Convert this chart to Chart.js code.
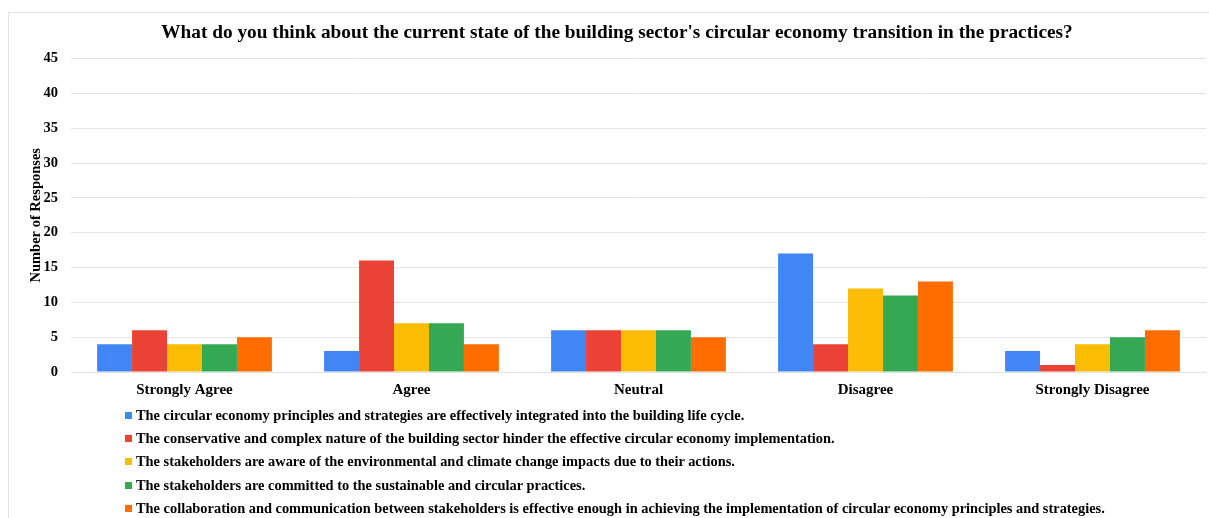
<!DOCTYPE html>
<html>
<head>
<meta charset="utf-8">
<script src="https://cdn.jsdelivr.net/npm/chart.js@4/dist/chart.umd.min.js"></script>
<style>
  body { margin: 0; background: #fff; }
  #wrap { position: relative; width: 1209px; height: 518px; overflow: hidden; }
  #frame { position: absolute; left: 8px; top: 12px; width: 1240px; height: 540px; border: 1px solid #e4e4e4; }
  canvas { position: absolute; left: 0; top: 0; }
  #legend {
    position: absolute; left: 125px; top: 403.5px;
    font: bold 14.4px 'Liberation Serif', 'Times New Roman', serif; color: #000;
  }
  #legend .row { display: flex; align-items: center; height: 23.4px; white-space: nowrap; }
  #legend .box { width: 7px; height: 7px; margin-right: 4px; flex: none; }
</style>
</head>
<body>
<div id="wrap">
  <div id="frame"></div>
  <canvas id="myChart" width="1209" height="518"></canvas>
  <div id="legend"></div>
</div>
<script>
const labels = ["Strongly Agree", "Agree", "Neutral", "Disagree", "Strongly Disagree"];

const integrated = [4, 3, 6, 17, 3];
const conservative = [6, 16, 6, 4, 1];
const aware = [4, 7, 6, 12, 4];
const committed = [4, 7, 6, 11, 5];
const collaboration = [5, 4, 5, 13, 6];

const serif = "'Liberation Serif', 'Times New Roman', serif";

const datasets = [
  {
    label: "The circular economy principles and strategies are effectively integrated into the building life cycle.",
    backgroundColor: "#4285f4",
    data: integrated,
  },
  {
    label: "The conservative and complex nature of the building sector hinder the effective circular economy implementation.",
    backgroundColor: "#ea4335",
    data: conservative,
  },
  {
    label: "The stakeholders are aware of the environmental and climate change impacts due to their actions.",
    backgroundColor: "#fbbc04",
    data: aware,
  },
  {
    label: "The stakeholders are committed to the sustainable and circular practices.",
    backgroundColor: "#34a853",
    data: committed,
  },
  {
    label: "The collaboration and communication between stakeholders is effective enough in achieving the implementation of circular economy principles and strategies.",
    backgroundColor: "#ff6d01",
    data: collaboration,
  },
];

// one legend entry per line, built from the chart's own datasets
const htmlLegend = {
  id: "htmlLegend",
  afterUpdate(chart) {
    const box = document.getElementById("legend");
    box.innerHTML = "";
    chart.options.plugins.legend.labels.generateLabels(chart).forEach((item) => {
      const row = document.createElement("div");
      row.className = "row";
      const swatch = document.createElement("span");
      swatch.className = "box";
      swatch.style.background = item.fillStyle;
      const text = document.createElement("span");
      text.textContent = item.text;
      row.appendChild(swatch);
      row.appendChild(text);
      box.appendChild(row);
    });
  },
};

const config = {
  type: "bar",
  data: { labels, datasets },
  options: {
    responsive: false,
    animation: false,
    datasets: {
      bar: { barPercentage: 1, categoryPercentage: 0.77, borderWidth: 0 },
    },
    layout: { padding: { left: 28, right: 3, top: 12, bottom: 118 } },
    plugins: {
      title: {
        display: true,
        text: "What do you think about the current state of the building sector's circular economy transition in the practices?",
        color: "#000",
        font: { family: serif, size: 19.3, weight: "bold" },
        padding: { top: 9.4, bottom: 14 },
      },
      legend: { display: false },
      tooltip: { enabled: false },
    },
    scales: {
      x: {
        grid: { display: false },
        border: { display: false },
        ticks: {
          color: "#000",
          padding: 1,
          font: { family: serif, size: 15, weight: "bold" },
        },
      },
      y: {
        min: 0,
        max: 45,
        afterFit(scale) {
          scale.width = 43;
        },
        ticks: {
          stepSize: 5,
          color: "#000",
          padding: 13,
          font: { family: serif, size: 14.5, weight: "bold" },
        },
        grid: { color: "#e3e3e3", drawTicks: false },
        border: { display: false },
        title: {
          display: true,
          text: "Number of Responses",
          color: "#000",
          padding: { top: 0, bottom: 0 },
          font: { family: serif, size: 14.5, weight: "bold" },
        },
      },
    },
  },
  plugins: [htmlLegend],
};

const myChart = new Chart(document.querySelector("#myChart"), config);
</script>
</body>
</html>
